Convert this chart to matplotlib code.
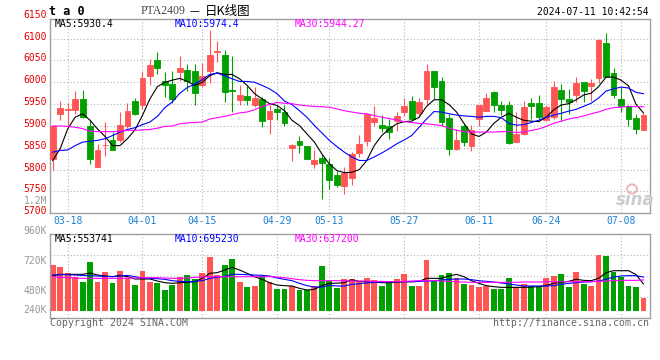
import matplotlib
matplotlib.use("Agg")
import matplotlib.pyplot as plt
from matplotlib import transforms
from matplotlib.patches import Ellipse
import numpy as np

# ---- data ----
date_labels = ["03-18", "04-01", "04-15", "04-29", "05-13", "05-27", "06-11", "06-24", "07-08"]
date_idx = [2, 12, 20, 30, 37, 47, 57, 66, 76]

opens = [5825, 5928, 5937, 5937, 5962, 5900, 5807, 5856, 5867, 5867,
         5900, 5957, 5949, 6014, 6051, 6002, 5996, 6023, 6029, 6025,
         5993, 6025, 6070, 6063, 5983, 5960, 5968, 5949, 5962, 5916,
         5939, 5933, 5850, 5865, 5853, 5813, 5826, 5813, 5787, 5762,
         5781, 5838, 5865, 5910, 5903, 5899, 5911, 5932, 5958, 5930,
         5962, 6025, 6004, 5918, 5848, 5900, 5855, 5916, 5935, 5977,
         5949, 5948, 5863, 5882, 5952, 5952, 5913, 5920, 5983, 5962,
         5971, 6000, 5991, 6009, 6089, 6021, 5962, 5945, 5918, 5891]
highs = [5900, 5957, 5953, 5980, 5983, 5913, 5859, 5910, 5887, 5932,
         5952, 5964, 6027, 6054, 6070, 6023, 6027, 6060, 6042, 6042,
         6044, 6120, 6094, 6073, 6060, 5993, 5991, 5989, 5966, 5947,
         5949, 5949, 5858, 5878, 5855, 5844, 5834, 5826, 5798, 5806,
         5840, 5880, 5928, 5945, 5926, 5916, 5932, 5964, 5968, 5964,
         6042, 6025, 6013, 5928, 5894, 5905, 5903, 5948, 5975, 5980,
         5958, 5958, 5932, 5958, 5964, 5970, 5949, 6002, 5996, 5985,
         6012, 6000, 6008, 6099, 6112, 6033, 5989, 5947, 5928, 5929]
lows = [5800, 5913, 5897, 5928, 5919, 5812, 5806, 5832, 5844, 5863,
        5896, 5926, 5939, 5993, 6018, 5966, 5952, 6004, 5980, 5949,
        5989, 5999, 6046, 5954, 5932, 5949, 5949, 5943, 5897, 5881,
        5913, 5901, 5820, 5838, 5825, 5804, 5733, 5756, 5760, 5745,
        5764, 5829, 5855, 5899, 5886, 5871, 5888, 5922, 5913, 5922,
        5949, 5962, 5901, 5833, 5846, 5855, 5842, 5901, 5934, 5932,
        5924, 5859, 5863, 5880, 5916, 5916, 5911, 5916, 5911, 5928,
        5954, 5954, 5958, 5998, 6012, 5964, 5933, 5901, 5882, 5891]
closes = [5900, 5941, 5938, 5962, 5920, 5825, 5846, 5857, 5846, 5903,
          5934, 5928, 6009, 6039, 6033, 5994, 5962, 6033, 6004, 5975,
          6014, 6063, 6071, 5977, 5980, 5970, 5960, 5964, 5912, 5935,
          5932, 5907, 5857, 5857, 5825, 5821, 5816, 5777, 5765, 5792,
          5836, 5859, 5928, 5919, 5896, 5886, 5922, 5945, 5916, 5954,
          6025, 5990, 5910, 5848, 5867, 5863, 5890, 5948, 5964, 5947,
          5937, 5861, 5882, 5943, 5945, 5920, 5943, 5989, 5962, 5954,
          5999, 5980, 5999, 6097, 6013, 5971, 5945, 5916, 5894, 5926]

ma5 = [5821, 5848, 5893, 5920, 5928, 5913, 5893, 5876, 5855, 5855,
       5871, 5891, 5924, 5962, 5990, 6000, 6005, 6009, 6002, 5993,
       6000, 6015, 6022, 6018, 6018, 6008, 5993, 5974, 5962, 5951,
       5947, 5935, 5913, 5901, 5882, 5863, 5836, 5813, 5798, 5793,
       5794, 5800, 5821, 5855, 5878, 5893, 5905, 5910, 5911, 5920,
       5945, 5960, 5960, 5949, 5932, 5906, 5882, 5876, 5886, 5906,
       5920, 5929, 5920, 5913, 5911, 5910, 5920, 5937, 5948, 5951,
       5960, 5971, 5975, 5990, 6012, 6012, 6005, 5992, 5950, 5930]
ma10 = [5840, 5844, 5845, 5855, 5863, 5865, 5867, 5871, 5878, 5886,
        5892, 5896, 5903, 5909, 5922, 5942, 5955, 5975, 5988, 5996,
        6006, 6018, 6021, 6015, 6008, 6002, 6002, 6000, 5993, 5985,
        5974, 5957, 5949, 5935, 5920, 5901, 5884, 5867, 5853, 5840,
        5829, 5821, 5821, 5829, 5838, 5848, 5859, 5868, 5878, 5897,
        5916, 5933, 5932, 5928, 5925, 5923, 5922, 5920, 5922, 5922,
        5919, 5906, 5902, 5903, 5908, 5913, 5920, 5925, 5929, 5934,
        5938, 5945, 5952, 5964, 5980, 5985, 5989, 5987, 5977, 5974]
ma30 = [5900, 5900, 5899, 5897, 5894, 5888, 5887, 5887, 5887, 5888,
        5890, 5890, 5891, 5892, 5895, 5899, 5900, 5905, 5907, 5908,
        5909, 5916, 5919, 5922, 5926, 5930, 5932, 5937, 5945, 5949,
        5954, 5952, 5951, 5948, 5946, 5945, 5944, 5943, 5939, 5935,
        5932, 5929, 5928, 5924, 5920, 5917, 5914, 5910, 5908, 5906,
        5905, 5903, 5901, 5895, 5890, 5887, 5886, 5886, 5886, 5886,
        5887, 5887, 5885, 5886, 5890, 5893, 5899, 5906, 5911, 5916,
        5919, 5923, 5928, 5932, 5938, 5942, 5943, 5945, 5944, 5944]

# volume in thousands
volumes = [945, 904, 787, 704, 600, 1007, 600, 800, 580, 821,
           669, 531, 821, 600, 580, 428, 531, 704, 738, 656,
           787, 1111, 738, 945, 1070, 600, 490, 511, 718, 600,
           449, 449, 511, 428, 428, 511, 925, 621, 469, 656,
           656, 614, 676, 635, 511, 566, 656, 759, 511, 511,
           1049, 621, 738, 787, 676, 552, 531, 490, 511, 449,
           449, 676, 490, 552, 511, 511, 676, 718, 759, 490,
           800, 552, 511, 1152, 1132, 800, 697, 511, 490, 262]
vol_ma5 = [724, 752, 752, 752, 752, 780, 738, 718, 704, 731,
           704, 656, 656, 656, 614, 580, 566, 580, 587, 600,
           669, 773, 787, 842, 897, 842, 773, 704, 649, 580,
           531, 518, 511, 463, 428, 442, 520, 565, 570, 580,
           640, 607, 600, 593, 580, 580, 587, 600, 600, 607,
           669, 669, 669, 718, 752, 704, 621, 566, 518, 497,
           483, 483, 483, 483, 490, 497, 525, 566, 587, 607,
           650, 628, 621, 669, 787, 828, 828, 828, 750, 554]
vol_ma10 = [738, 745, 745, 738, 731, 724, 718, 711, 704, 718,
            731, 704, 676, 669, 662, 649, 621, 607, 600, 607,
            621, 669, 690, 711, 752, 752, 745, 738, 731, 718,
            676, 649, 621, 566, 518, 490, 490, 524, 511, 511,
            545, 559, 573, 587, 593, 600, 600, 600, 600, 607,
            614, 621, 635, 649, 656, 656, 642, 621, 607, 593,
            573, 552, 531, 511, 511, 511, 511, 518, 545, 566,
            580, 593, 600, 614, 649, 697, 718, 725, 725, 695]
vol_ma30 = [704, 690, 683, 676, 669, 669, 669, 669, 669, 669,
            676, 676, 683, 683, 683, 676, 669, 669, 676, 690,
            697, 704, 704, 704, 704, 704, 704, 704, 704, 704,
            697, 683, 662, 642, 628, 621, 621, 621, 621, 621,
            614, 614, 614, 607, 607, 600, 600, 607, 614, 621,
            621, 621, 614, 607, 600, 593, 587, 587, 587, 587,
            587, 587, 587, 593, 593, 593, 600, 600, 600, 600,
            600, 600, 600, 607, 614, 621, 628, 628, 628, 637]

price_ticks = [5700, 5750, 5800, 5850, 5900, 5950, 6000, 6050, 6100, 6150]
vol_labels = ["1.2M", "960K", "720K", "480K", "240K"]

# ---- style ----
W, H = 660, 360
RED = "#ff5555"
GREEN = "#00a000"
GRID = "#b4b4b4"
FRAME = "#a0a0a0"
MONO = "DejaVu Sans Mono"


def fx(px):
    return px / W


def fy(py):
    return 1 - py / H


fig = plt.figure(figsize=(6.6, 3.6), dpi=100)
fig.patch.set_facecolor("white")
ax = fig.add_axes([fx(50), fy(213.3), 600 / W, 194.3 / H])
axv = fig.add_axes([fx(50), fy(317.7), 600 / W, 83.4 / H])

x = np.arange(len(closes))
o = np.array(opens)
c = np.array(closes)
colors = np.where(c >= o, RED, GREEN)

for a in (ax, axv):
    a.set_xlim(-0.36, 79.88)
    a.set_xticks([])
    a.set_yticks([])
    for s in a.spines.values():
        s.set_color(FRAME)
        s.set_linewidth(1.0)
    for d in date_idx:
        a.axvline(d, color=GRID, lw=0.8, ls=(0, (1, 2)), zorder=1)

# ---- price panel ----
ax.set_ylim(5700, 6145)
for p in price_ticks[1:-1]:
    ax.axhline(p, color=GRID, lw=0.8, ls=(0, (1, 2)), zorder=1)

ax.vlines(x, lows, highs, colors=colors, lw=0.8, zorder=2)
ax.bar(x, np.abs(c - o), bottom=np.minimum(o, c), width=0.78,
       color=colors, edgecolor=colors, lw=0.6, zorder=3)
ax.plot(x, ma5, color="black", lw=0.8, zorder=4)
ax.plot(x, ma10, color="#0000ff", lw=0.8, zorder=4)
ax.plot(x, ma30, color="#ff00ff", lw=0.8, zorder=4)

lab_tr = transforms.offset_copy(ax.get_yaxis_transform(), x=-3.5, y=2, units="dots")
for p in price_ticks:
    ax.text(0, p, str(p), transform=lab_tr, ha="right", va="center",
            color="#e60000", family=MONO, fontsize=7, clip_on=False)

for d, lab in zip(date_idx, date_labels):
    ax.text(d, -0.038, lab, transform=ax.get_xaxis_transform(), ha="center",
            va="center", color="#1a7fd0", family=MONO, fontsize=7, clip_on=False)

# ---- volume panel ----
axv.set_ylim(-145, 1581)
for f in (0.25, 0.5, 0.75):
    axv.plot([0, 1], [f, f], transform=axv.transAxes, color=GRID, lw=0.8,
             ls=(0, (1, 2)), zorder=1)
axv.bar(x, volumes, width=0.78, color=colors, lw=0, zorder=2)
axv.plot(x, vol_ma5, color="black", lw=0.8, zorder=4)
axv.plot(x, vol_ma10, color="#0000ff", lw=0.8, zorder=4)
axv.plot(x, vol_ma30, color="#ff00ff", lw=0.8, zorder=4)

for lab, py in zip(vol_labels, [200.5, 230.7, 261, 291, 310]):
    fig.text(fx(47), fy(py), lab, ha="right", va="center", color="#999999",
             family=MONO, fontsize=7)

# ---- header / legends ----
fig.text(fx(49), fy(11.5), "t a 0", ha="left", va="center", family=MONO,
         fontsize=8.5, fontweight="bold", color="black")
fig.text(fx(141), fy(11.5), "PTA2409", ha="left", va="center",
         family="Liberation Serif", fontsize=8.5, color="#444444")
fig.text(fx(190), fy(11.5), "\u2014", ha="left", va="center", family="DejaVu Sans",
         fontsize=7, color="black")
fig.text(fx(205), fy(11.5), "日K线图", ha="left", va="center",
         family=["Noto Sans CJK SC", "DejaVu Sans"], fontsize=9, color="black")
fig.text(fx(649), fy(12), "2024-07-11 10:42:54", ha="right", va="center",
         family=MONO, fontsize=7, color="black")

for txt, px, col in [("MA5:5930.4", 55, "black"), ("MA10:5974.4", 174.5, "#0000ff"),
                     ("MA30:5944.27", 295, "#ff00ff")]:
    fig.text(fx(px), fy(24), txt, ha="left", va="center", family=MONO,
             fontsize=7, color=col)
for txt, px, col in [("MA5:553741", 55, "black"), ("MA10:695230", 175, "#0000ff"),
                     ("MA30:637200", 295, "#ff00ff")]:
    fig.text(fx(px), fy(239), txt, ha="left", va="center", family=MONO,
             fontsize=7, color=col)

fig.text(fx(50), fy(323.5), "Copyright 2024 SINA.COM", ha="left", va="center",
         family=MONO, fontsize=7.1, color="#666666")
fig.text(fx(649), fy(323.5), "http://finance.sina.com.cn", ha="right", va="center",
         family=MONO, fontsize=7.1, color="#666666")

# watermark
fig.add_artist(Ellipse((fx(632), fy(189)), 10 / W, 9 / H, transform=fig.transFigure,
                       facecolor="none", edgecolor="#f2b8b8", lw=1.5))
fig.text(fx(635), fy(200), "sina", ha="center", va="center", fontsize=12,
         fontstyle="italic", fontweight="bold", color="#cccccc")

fig.savefig("out.png", dpi=100)
